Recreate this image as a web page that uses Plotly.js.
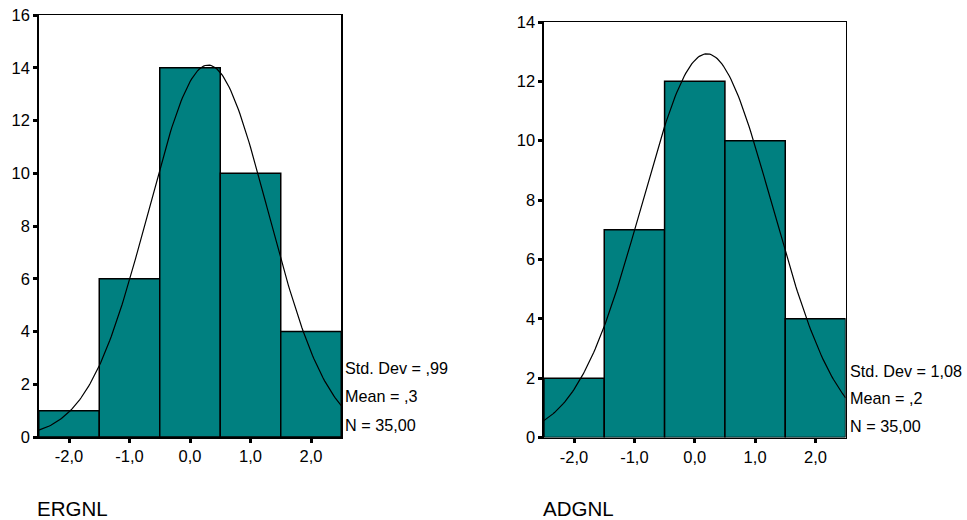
<!DOCTYPE html>
<html>
<head>
<meta charset="utf-8">
<script src="https://cdn.plot.ly/plotly-3.0.1.min.js"></script>
<style>html,body{margin:0;padding:0;background:#fff;}#chart{width:967px;height:520px;}</style>
</head>
<body>
<div id="chart"></div>
<script>
// Bin centres (width 1) and counts
const binCenters = [-2, -1, 0, 1, 2];
const xTickVals = [-2, -1, 0, 1, 2];
const xTickText = ["-2,0", "-1,0", "0,0", "1,0", "2,0"];

const ergnlCounts = [1, 6, 14, 10, 4];
const adgnlCounts = [2, 7, 12, 10, 4];

// Fitted normal curve parameters shown on the chart
const ergnlStats = {mean: 0.3, sd: 0.99, n: 35};
const adgnlStats = {mean: 0.2, sd: 1.08, n: 35};
const ergnlLabels = ["Std. Dev = ,99", "Mean = ,3", "N = 35,00"];
const adgnlLabels = ["Std. Dev = 1,08", "Mean = ,2", "N = 35,00"];

const ergnlYTicks = [0, 2, 4, 6, 8, 10, 12, 14, 16];
const adgnlYTicks = [0, 2, 4, 6, 8, 10, 12, 14];

function normalCurve(s) {
  const xs = [], ys = [];
  for (let i = 0; i <= 200; i++) {
    const x = -2.5 + 5 * i / 200;
    const z = (x - s.mean) / s.sd;
    xs.push(x);
    ys.push(s.n * 1 / (s.sd * Math.sqrt(2 * Math.PI)) * Math.exp(-0.5 * z * z));
  }
  return {xs, ys};
}

const TEAL = "#008080";
const FONT = "Liberation Sans, Arial, sans-serif";

const c1 = normalCurve(ergnlStats);
const c2 = normalCurve(adgnlStats);

const traces = [
  {type: "bar", x: binCenters, y: ergnlCounts, width: 1, xaxis: "x", yaxis: "y",
   marker: {color: TEAL, line: {color: "#000", width: 1.5}}, hoverinfo: "skip"},
  {type: "scatter", mode: "lines", x: c1.xs, y: c1.ys, xaxis: "x", yaxis: "y",
   line: {color: "#000", width: 1.2}, hoverinfo: "skip"},
  {type: "bar", x: binCenters, y: adgnlCounts, width: 1, xaxis: "x2", yaxis: "y2",
   marker: {color: TEAL, line: {color: "#000", width: 1.5}}, hoverinfo: "skip"},
  {type: "scatter", mode: "lines", x: c2.xs, y: c2.ys, xaxis: "x2", yaxis: "y2",
   line: {color: "#000", width: 1.2}, hoverinfo: "skip"}
];

const W = 967, H = 520;
function px(x) { return x / W; }
function py(y) { return 1 - y / H; }

const axBase = {
  showgrid: false, zeroline: false, showline: true, linecolor: "#000", linewidth: 1.5,
  mirror: true, ticks: "outside", ticklen: 4, tickwidth: 3, tickcolor: "#000",
  tickfont: {family: FONT, size: 16.5, color: "#000"}, fixedrange: true
};

const annotations = [];
function addText(txt, x, y, size) {
  annotations.push({text: txt, xref: "paper", yref: "paper", x: px(x), y: py(y),
    xanchor: "left", yanchor: "middle", showarrow: false,
    font: {family: FONT, size: size, color: "#000"}});
}
addText("ERGNL", 35, 508, 20.5);
addText("ADGNL", 541, 508, 20.5);
const l1y = [368, 396, 425];
const l2y = [371, 398, 426];
ergnlLabels.forEach((t, i) => addText(t, 343, l1y[i], 16.2));
adgnlLabels.forEach((t, i) => addText(t, 848, l2y[i], 16.2));

const layout = {
  width: W, height: H, margin: {l: 0, r: 0, t: 0, b: 0},
  paper_bgcolor: "#fff", plot_bgcolor: "#fff", showlegend: false, bargap: 0,
  xaxis: Object.assign({}, axBase, {domain: [px(38.75), px(341.25)], range: [-2.5, 2.5],
    tickvals: xTickVals, ticktext: xTickText, anchor: "y"}),
  yaxis: Object.assign({}, axBase, {domain: [py(437), py(15)], range: [0, 16],
    tickvals: ergnlYTicks, anchor: "x"}),
  xaxis2: Object.assign({}, axBase, {domain: [px(543.9), px(845.6)], range: [-2.5, 2.5],
    tickvals: xTickVals, ticktext: xTickText, anchor: "y2"}),
  yaxis2: Object.assign({}, axBase, {domain: [py(437.5), py(22)], range: [0, 14],
    tickvals: adgnlYTicks, anchor: "x2"}),
  annotations: annotations
};

Plotly.newPlot("chart", traces, layout, {displayModeBar: false, staticPlot: true});
</script>
</body>
</html>
